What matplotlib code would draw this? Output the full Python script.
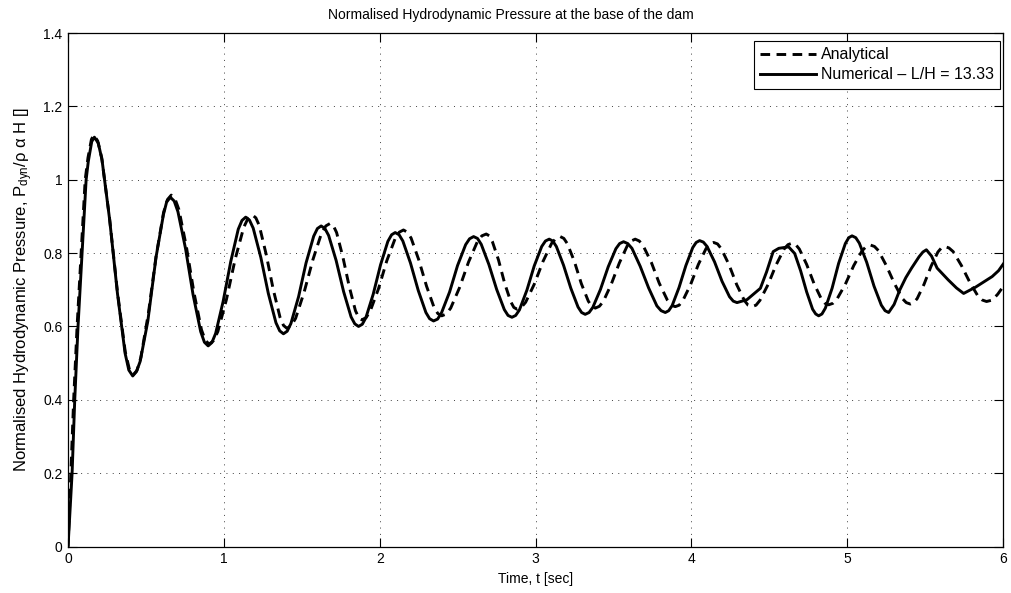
import matplotlib
matplotlib.use("Agg")
import matplotlib.pyplot as plt

plt.rcParams['font.family'] = ['Liberation Sans', 'DejaVu Sans']
plt.rcParams['mathtext.default'] = 'regular'

# ---- data ----
t_num = [0.000, 0.026, 0.043, 0.064, 0.090, 0.116, 0.130, 0.152, 0.169,
         0.194, 0.218, 0.267, 0.317, 0.366, 0.390, 0.415,
         0.439, 0.463, 0.512, 0.565, 0.612, 0.633, 0.657,
         0.681, 0.705, 0.754, 0.802, 0.851, 0.875, 0.899,
         0.923, 0.947, 0.995, 1.044, 1.092, 1.116, 1.140,
         1.164, 1.188, 1.237, 1.285, 1.334, 1.358, 1.382,
         1.406, 1.430, 1.479, 1.527, 1.576, 1.600, 1.624,
         1.648, 1.672, 1.720, 1.768, 1.816, 1.840, 1.864,
         1.888, 1.911, 1.958, 2.005, 2.052, 2.076, 2.099,
         2.124, 2.148, 2.197, 2.247, 2.296, 2.320, 2.345,
         2.371, 2.396, 2.448, 2.499, 2.551, 2.576, 2.602,
         2.627, 2.651, 2.700, 2.750, 2.799, 2.823, 2.848,
         2.872, 2.896, 2.944, 2.991, 3.039, 3.063, 3.087,
         3.110, 3.133, 3.179, 3.226, 3.272, 3.295, 3.318,
         3.343, 3.367, 3.416, 3.466, 3.515, 3.539, 3.564,
         3.591, 3.618, 3.671, 3.725, 3.778, 3.805, 3.832,
         3.854, 3.876, 3.920, 3.964, 4.008, 4.030, 4.052,
         4.076, 4.100, 4.148, 4.196, 4.244, 4.268, 4.292,
         4.356, 4.442, 4.482, 4.524, 4.560, 4.623,
         4.662, 4.700, 4.739, 4.777, 4.797, 4.816,
         4.837, 4.859, 4.902, 4.944, 4.987, 5.009, 5.030,
         5.054, 5.077, 5.124, 5.171, 5.218, 5.242, 5.265,
         5.300, 5.337, 5.375, 5.412, 5.460, 5.485, 5.507,
         5.540, 5.576, 5.647, 5.700, 5.746,
         5.822, 5.929, 5.970, 6.000]
p_num = [0.000, 0.200, 0.400, 0.600, 0.800, 1.000, 1.050, 1.104, 1.116,
         1.100, 1.054, 0.891, 0.690, 0.527, 0.481, 0.465,
         0.477, 0.505, 0.615, 0.790, 0.905, 0.940, 0.952,
         0.942, 0.913, 0.812, 0.687, 0.586, 0.557, 0.547,
         0.556, 0.581, 0.668, 0.777, 0.865, 0.889, 0.898,
         0.890, 0.868, 0.788, 0.690, 0.610, 0.588, 0.580,
         0.587, 0.608, 0.681, 0.773, 0.846, 0.867, 0.874,
         0.867, 0.848, 0.780, 0.695, 0.626, 0.607, 0.600,
         0.606, 0.624, 0.688, 0.768, 0.832, 0.850, 0.856,
         0.850, 0.833, 0.773, 0.698, 0.638, 0.621, 0.615,
         0.620, 0.637, 0.694, 0.766, 0.823, 0.839, 0.845,
         0.840, 0.824, 0.769, 0.701, 0.646, 0.630, 0.625,
         0.630, 0.645, 0.699, 0.765, 0.818, 0.833, 0.838,
         0.833, 0.818, 0.767, 0.704, 0.653, 0.638, 0.633,
         0.638, 0.652, 0.701, 0.763, 0.812, 0.826, 0.831,
         0.826, 0.813, 0.764, 0.705, 0.656, 0.643, 0.638,
         0.643, 0.657, 0.706, 0.766, 0.815, 0.829, 0.834,
         0.830, 0.818, 0.776, 0.723, 0.681, 0.669, 0.665,
         0.673, 0.704, 0.749, 0.804, 0.813, 0.817,
         0.799, 0.752, 0.694, 0.647, 0.634, 0.629,
         0.634, 0.650, 0.704, 0.772, 0.826, 0.842, 0.847,
         0.842, 0.827, 0.775, 0.710, 0.658, 0.643, 0.638,
         0.660, 0.700, 0.733, 0.759, 0.790, 0.803, 0.809,
         0.792, 0.759, 0.727, 0.705, 0.690,
         0.707, 0.736, 0.752, 0.770]

t_ana = [0.000, 0.018, 0.036, 0.058, 0.084, 0.110, 0.128, 0.150, 0.165,
         0.190, 0.216, 0.266, 0.317, 0.367, 0.393, 0.418,
         0.442, 0.467, 0.516, 0.564, 0.613, 0.638, 0.662,
         0.686, 0.711, 0.759, 0.808, 0.856, 0.881, 0.905,
         0.933, 0.961, 1.016, 1.072, 1.127, 1.155, 1.183,
         1.205, 1.227, 1.271, 1.316, 1.360, 1.382, 1.404,
         1.432, 1.460, 1.515, 1.571, 1.626, 1.654, 1.682,
         1.702, 1.723, 1.763, 1.804, 1.844, 1.865, 1.885,
         1.912, 1.938, 1.992, 2.045, 2.099, 2.125, 2.152,
         2.177, 2.201, 2.250, 2.300, 2.349, 2.373, 2.398,
         2.427, 2.455, 2.512, 2.569, 2.626, 2.655, 2.683,
         2.703, 2.722, 2.762, 2.801, 2.841, 2.860, 2.880,
         2.908, 2.936, 2.991, 3.047, 3.102, 3.130, 3.158,
         3.181, 3.203, 3.248, 3.293, 3.338, 3.360, 3.383,
         3.409, 3.434, 3.485, 3.537, 3.588, 3.613, 3.639,
         3.665, 3.690, 3.742, 3.793, 3.845, 3.870, 3.896,
         3.921, 3.945, 3.994, 4.044, 4.093, 4.117, 4.142,
         4.167, 4.191, 4.240, 4.290, 4.339, 4.363, 4.388,
         4.414, 4.439, 4.491, 4.542, 4.594, 4.619, 4.645,
         4.669, 4.692, 4.739, 4.786, 4.833, 4.857, 4.880,
         4.907, 4.934, 4.987, 5.041, 5.094, 5.121, 5.148,
         5.174, 5.199, 5.250, 5.302, 5.353, 5.378, 5.404,
         5.426, 5.448, 5.492, 5.537, 5.581, 5.603, 5.625,
         5.652, 5.679, 5.732, 5.786, 5.839, 5.866, 5.893,
         5.930, 5.965, 6.000]
p_ana = [0.000, 0.200, 0.400, 0.600, 0.800, 1.000, 1.060, 1.110, 1.122,
         1.106, 1.060, 0.896, 0.694, 0.531, 0.484, 0.468,
         0.480, 0.515, 0.637, 0.789, 0.911, 0.946, 0.958,
         0.948, 0.919, 0.818, 0.692, 0.591, 0.562, 0.552,
         0.561, 0.586, 0.673, 0.783, 0.870, 0.895, 0.904,
         0.896, 0.875, 0.797, 0.702, 0.625, 0.603, 0.595,
         0.602, 0.622, 0.694, 0.782, 0.854, 0.874, 0.881,
         0.875, 0.856, 0.790, 0.709, 0.643, 0.624, 0.618,
         0.624, 0.641, 0.703, 0.779, 0.840, 0.857, 0.863,
         0.857, 0.841, 0.782, 0.710, 0.651, 0.635, 0.629,
         0.634, 0.650, 0.706, 0.775, 0.831, 0.847, 0.852,
         0.847, 0.832, 0.781, 0.718, 0.667, 0.652, 0.647,
         0.652, 0.666, 0.715, 0.777, 0.826, 0.840, 0.845,
         0.840, 0.826, 0.778, 0.717, 0.669, 0.655, 0.650,
         0.655, 0.668, 0.715, 0.773, 0.820, 0.833, 0.838,
         0.833, 0.820, 0.775, 0.718, 0.672, 0.658, 0.654,
         0.658, 0.671, 0.714, 0.769, 0.812, 0.825, 0.829,
         0.825, 0.812, 0.769, 0.714, 0.671, 0.658, 0.654,
         0.658, 0.671, 0.714, 0.767, 0.811, 0.823, 0.827,
         0.823, 0.811, 0.769, 0.717, 0.675, 0.663, 0.659,
         0.663, 0.675, 0.715, 0.766, 0.806, 0.818, 0.822,
         0.818, 0.807, 0.766, 0.717, 0.676, 0.665, 0.661,
         0.665, 0.676, 0.715, 0.764, 0.803, 0.814, 0.818,
         0.814, 0.804, 0.766, 0.720, 0.682, 0.672, 0.668,
         0.672, 0.688, 0.709]

x_ticks = [0, 1, 2, 3, 4, 5, 6]
x_tick_labels = ['0', '1', '2', '3', '4', '5', '6']
y_ticks = [0, 0.2, 0.4, 0.6, 0.8, 1.0, 1.2, 1.4]
y_tick_labels = ['0', '0.2', '0.4', '0.6', '0.8', '1', '1.2', '1.4']

title = 'Normalised Hydrodynamic Pressure at the base of the dam'
xlabel = 'Time, t [sec]'
ylabel = 'Normalised Hydrodynamic Pressure, P$_{dyn}$/\u03c1 \u03b1 H []'
label_ana = 'Analytical'
label_num = 'Numerical \u2013 L/H = 13.33'

# ---- figure ----
fig = plt.figure(figsize=(10.11, 5.93), dpi=100)
ax = fig.add_axes([0.0673, 0.0784, 0.9250, 0.8659])

ax.plot(t_ana, p_ana, color='black', lw=2.1, ls=(0, (3.3, 2.2)),
        label=label_ana, zorder=3)
ax.plot(t_num, p_num, color='black', lw=2.1, ls='-',
        label=label_num, zorder=4)

ax.set_xlim(0, 6)
ax.set_ylim(0, 1.4)
ax.set_xticks(x_ticks)
ax.set_xticklabels(x_tick_labels)
ax.set_yticks(y_ticks)
ax.set_yticklabels(y_tick_labels)

ax.grid(True, color='black', ls=(0, (1, 5.5)), lw=0.7, alpha=0.75)
ax.tick_params(direction='in', top=True, right=True, length=6.5, width=0.8,
               labelsize=10, colors='black', pad=4)
for s in ax.spines.values():
    s.set_linewidth(0.9)
    s.set_color('black')

ax.set_title(title, fontsize=10, pad=10, x=0.474)
ax.set_xlabel(xlabel, fontsize=10, labelpad=4)
ax.set_ylabel(ylabel, fontsize=12, labelpad=6)

leg = ax.legend(loc='upper right', bbox_to_anchor=(0.9968, 0.9844),
                fontsize=11.5, handlelength=3.5, fancybox=False,
                framealpha=1, edgecolor='black', borderaxespad=0.0,
                borderpad=0.4, labelspacing=0.3, handletextpad=0.3)
leg.get_frame().set_linewidth(0.8)

fig.savefig('out.png', dpi=100)
